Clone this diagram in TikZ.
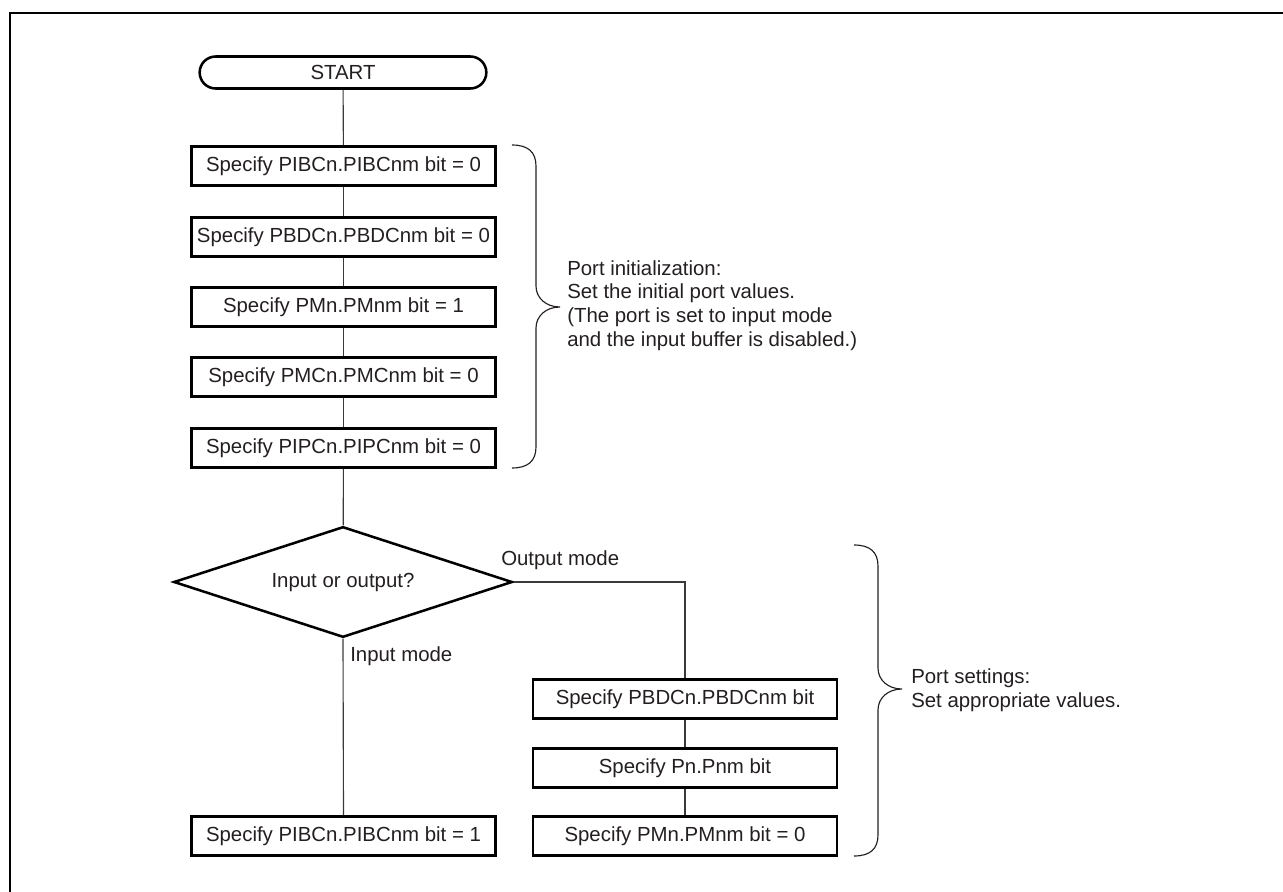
\documentclass[tikz,border=0pt]{standalone}
\usepackage{fontspec}
\setmainfont{Liberation Sans}
\usetikzlibrary{shapes.geometric,shapes.misc}
\definecolor{ink}{HTML}{231F20}
\definecolor{wire}{HTML}{3A3A3A}
\begin{document}
\begin{tikzpicture}[x=0.75pt,y=-0.75pt,
  every node/.style={text=ink,font=\fontsize{15.3}{17.8}\selectfont},
  procbox/.style={draw=black,line width=1.9pt,minimum width=228pt,minimum height=29.5pt,inner sep=0pt},
  termbox/.style={draw=black,line width=1.9pt,rounded rectangle,minimum width=215pt,minimum height=24pt,inner sep=0pt},
  decbox/.style={draw=black,line width=1.9pt,diamond,aspect=3.04,minimum width=254pt,minimum height=83pt,inner sep=0pt},
  conn/.style={draw=wire,line width=0.85pt},
  bracepath/.style={draw=ink,line width=0.85pt},
  note/.style={align=left,anchor=west,inner sep=0pt}]
\useasboundingbox (0,0) rectangle (1283,892);
% frame (top and left edges only)
\draw[line width=1.6pt] (10,892) -- (10,13) -- (1283,13);
% nodes
\node[termbox] (start) at (343,72.5) {START};
\node[procbox] (b1) at (343.5,166) {Specify PIBCn.PIBCnm bit = 0};
\node[procbox] (b2) at (343.5,237) {Specify PBDCn.PBDCnm bit = 0};
\node[procbox] (b3) at (343.5,307) {Specify PMn.PMnm bit = 1};
\node[procbox] (b4) at (343.5,377) {Specify PMCn.PMCnm bit = 0};
\node[procbox] (b5) at (343.5,448) {Specify PIPCn.PIPCnm bit = 0};
\node[decbox] (dec) at (343,582) {Input or output?};
\node[procbox] (bin) at (343.5,836) {Specify PIBCn.PIBCnm bit = 1};
\node[procbox] (oa) at (685,699) {Specify PBDCn.PBDCnm bit\hspace{8pt}};
\node[procbox] (ob) at (685,768) {Specify Pn.Pnm bit};
\node[procbox] (oc) at (685,836) {Specify PMn.PMnm bit = 0};
% connectors
\draw[conn] (start) -- (b1);
\draw[conn] (b1) -- (b2);
\draw[conn] (b2) -- (b3);
\draw[conn] (b3) -- (b4);
\draw[conn] (b4) -- (b5);
\draw[conn] (b5) -- (dec);
\draw[conn] (dec.south) -- (bin.north);
\draw[conn] (dec.east) -| (oa.north);
\draw[conn] (oa) -- (ob);
\draw[conn] (ob) -- (oc);
% labels
\node[note] (outlbl) at (501,560) {Output mode};
\node[note] (inlbl) at (350,656) {Input mode};
% braces
\draw[bracepath] (512,145) .. controls (528,145) and (536,152) .. (536,166)
  -- (536,286) .. controls (536,298) and (546,307) .. (560,307)
  .. controls (546,307) and (536,316) .. (536,328)
  -- (536,447) .. controls (536,461) and (528,468) .. (512,468);
\node[note] (note1) at (567,305.5) {Port initialization:\\Set the initial port values.\\(The port is set to input mode\\and the input buffer is disabled.)};
\draw[bracepath] (854,545) .. controls (870,545) and (878,552) .. (878,566)
  -- (878,668) .. controls (878,680) and (888,689) .. (902,689)
  .. controls (888,689) and (878,698) .. (878,710)
  -- (878,835) .. controls (878,849) and (870,856) .. (854,856);
\node[note] (note2) at (911,690) {Port settings:\\Set appropriate values.};
\end{tikzpicture}
\end{document}
